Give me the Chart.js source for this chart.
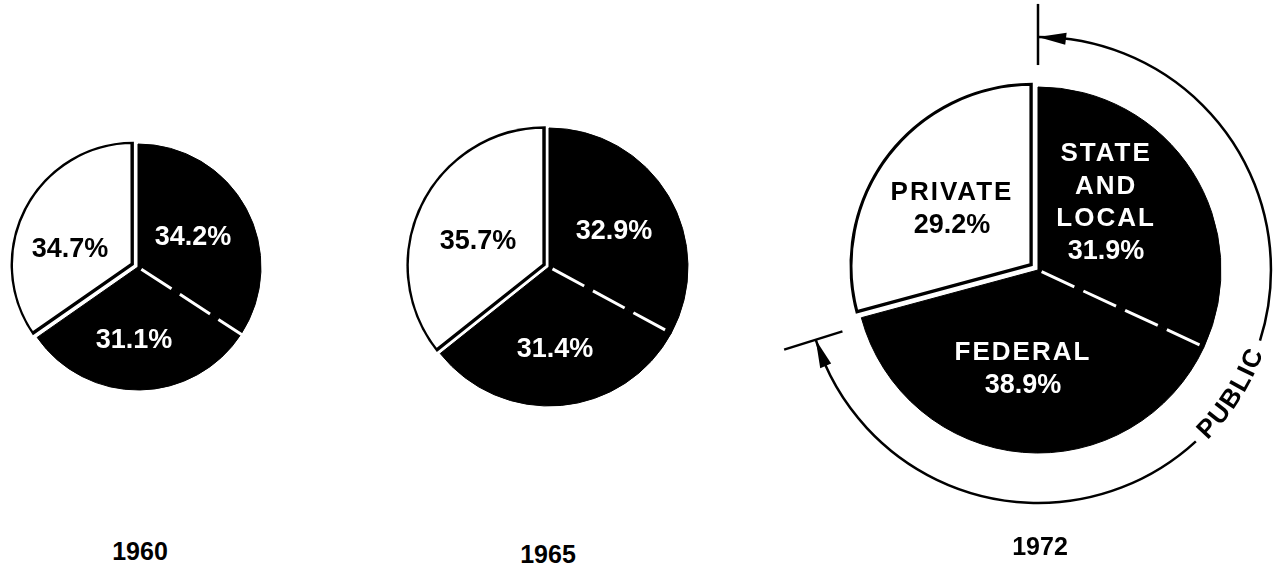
<!DOCTYPE html>
<html>
<head>
<meta charset="utf-8">
<title>Public and private shares, 1960-1972</title>
<script src="https://cdn.jsdelivr.net/npm/chart.js@4.4.1/dist/chart.umd.min.js"></script>
<style>
  html, body { margin: 0; padding: 0; background: #fff; overflow: hidden; }
  body { width: 1281px; height: 571px; position: relative; }
  canvas { position: absolute; top: 0; }
  .year {
    position: absolute;
    font: bold 25px "Liberation Sans", Arial, sans-serif;
    color: #000;
    transform: translate(-50%, -50%);
  }
</style>
</head>
<body>
<canvas id="pie1960" width="276" height="534" style="left:0px"></canvas>
<canvas id="pie1965" width="320" height="534" style="left:389px"></canvas>
<canvas id="pie1972" width="560" height="540" style="left:758px"></canvas>
<div class="year" id="y0" style="left:140px; top:551px"></div>
<div class="year" id="y1" style="left:548px; top:554px"></div>
<div class="year" id="y2" style="left:1040px; top:546px"></div>

<script>
// values (percent of total)
var years = ['1960', '1965', '1972'];
var sectors = ['State and local', 'Federal', 'Private'];
var captions = [['STATE', 'AND', 'LOCAL'], ['FEDERAL'], ['PRIVATE']];
var shares1960 = [34.2, 31.1, 34.7];
var shares1965 = [32.9, 31.4, 35.7];
var shares1972 = [31.9, 38.9, 29.2];
var groupName = 'PUBLIC';

var FONT = '"Liberation Sans", Arial, sans-serif';

years.forEach(function (y, i) {
  document.getElementById('y' + i).textContent = y;
});

// percent labels, captions and the dashed divider between the two public slices
var sliceLabels = {
  id: 'sliceLabels',
  afterDatasetsDraw: function (chart, args, opts) {
    var ctx = chart.ctx;
    var arcs = chart.getDatasetMeta(0).data;
    var values = chart.data.datasets[0].data;
    var cx = arcs[0].x, cy = arcs[0].y, r = arcs[0].outerRadius;
    var a = arcs[0].endAngle;

    ctx.save();
    ctx.strokeStyle = '#fff';
    ctx.lineWidth = 3;
    ctx.setLineDash([36, 10]);
    ctx.beginPath();
    ctx.moveTo(cx + Math.cos(a) * 4, cy + Math.sin(a) * 4);
    ctx.lineTo(cx + Math.cos(a) * (r + 2), cy + Math.sin(a) * (r + 2));
    ctx.stroke();
    ctx.setLineDash([]);

    ctx.textAlign = 'center';
    ctx.textBaseline = 'middle';
    arcs.forEach(function (arc, i) {
      var lines = opts.captions ? captions[i].slice() : [];
      lines.push(values[i].toFixed(1) + '%');
      var p = opts.pos[i];
      var x = cx + p[0] * r;
      var y0 = cy + p[1] * r - (lines.length - 1) * opts.lineHeight / 2;
      ctx.fillStyle = i === 2 ? '#000' : '#fff';
      lines.forEach(function (t, k) {
        var isNum = k === lines.length - 1;
        ctx.font = 'bold ' + (isNum ? 27 : 26) + 'px ' + FONT;
        ctx.letterSpacing = isNum ? '0px' : '2px';
        ctx.fillText(t, x, y0 + k * opts.lineHeight);
      });
    });
    ctx.restore();
  }
};

// bracket arc with arrows around the two public slices (1972 only)
var publicBracket = {
  id: 'publicBracket',
  afterDraw: function (chart, args, opts) {
    var ctx = chart.ctx;
    var arcs = chart.getDatasetMeta(0).data;
    var cx = arcs[0].x, cy = arcs[0].y, r = arcs[0].outerRadius;
    var a0 = arcs[0].startAngle;
    var a1 = arcs[1].endAngle - opts.endTrim * Math.PI / 180;
    var R = r * 1.273;
    var rb = r * 1.311;
    var mid = (opts.labelAngle - 90) * Math.PI / 180;

    ctx.save();
    ctx.font = 'bold 26px ' + FONT;
    ctx.letterSpacing = '1.5px';
    var widths = groupName.split('').map(function (c) { return ctx.measureText(c).width; });
    var W = widths.reduce(function (s, w) { return s + w; }, 0);
    var half = (W / 2) / rb + 9 / R;

    ctx.strokeStyle = '#000';
    ctx.fillStyle = '#000';
    ctx.lineWidth = 2.5;
    ctx.beginPath();
    ctx.arc(cx, cy, R, a0, mid - half);
    ctx.stroke();
    ctx.beginPath();
    ctx.arc(cx, cy, R, mid + half, a1);
    ctx.stroke();

    [a0, a1].forEach(function (a) {
      ctx.beginPath();
      ctx.moveTo(cx + Math.cos(a) * r * 1.12, cy + Math.sin(a) * r * 1.12);
      ctx.lineTo(cx + Math.cos(a) * r * 1.454, cy + Math.sin(a) * r * 1.454);
      ctx.stroke();
    });

    function head(tip, dir) {
      var b = tip + dir * 28 / R;
      ctx.beginPath();
      ctx.moveTo(cx + Math.cos(tip) * R, cy + Math.sin(tip) * R);
      ctx.lineTo(cx + Math.cos(b) * (R + 6), cy + Math.sin(b) * (R + 6));
      ctx.lineTo(cx + Math.cos(b) * (R - 6), cy + Math.sin(b) * (R - 6));
      ctx.closePath();
      ctx.fill();
    }
    head(a0, 1);
    head(a1, -1);

    // letters follow the arc, tops toward the centre, reading upward
    ctx.textAlign = 'center';
    ctx.textBaseline = 'alphabetic';
    var start = mid + (W / 2) / rb;
    var run = 0;
    groupName.split('').forEach(function (c, i) {
      var phi = start - (run + widths[i] / 2) / rb;
      run += widths[i];
      ctx.save();
      ctx.translate(cx + Math.cos(phi) * rb, cy + Math.sin(phi) * rb);
      ctx.rotate(phi - Math.PI / 2);
      ctx.fillText(c, 0, 0);
      ctx.restore();
    });
    ctx.restore();
  }
};

function makePie(id, shares, set) {
  var plugins = [sliceLabels];
  if (set.bracket) plugins.push(publicBracket);
  return new Chart(document.getElementById(id), {
    type: 'pie',
    data: {
      labels: sectors,
      datasets: [{
        data: shares,
        backgroundColor: ['#000', '#000', '#fff'],
        borderColor: '#000',
        borderWidth: [1, 1, 3],
        borderAlign: ['center', 'center', 'inner'],
        offset: [0, 0, set.offset]
      }]
    },
    options: {
      responsive: false,
      animation: false,
      events: [],
      radius: set.radius,
      layout: { padding: 0 },
      plugins: {
        legend: { display: false },
        tooltip: { enabled: false },
        sliceLabels: { captions: set.captions, pos: set.pos, lineHeight: set.lineHeight },
        publicBracket: { labelAngle: 122.5, endTrim: 2.3 }
      }
    },
    plugins: plugins
  });
}

makePie('pie1960', shares1960, {
  radius: 123, offset: 20, captions: false, lineHeight: 30,
  pos: [[0.447, -0.236], [-0.033, 0.60], [-0.553, -0.138]]
});
makePie('pie1965', shares1965, {
  radius: 139, offset: 16, captions: false, lineHeight: 30,
  pos: [[0.468, -0.252], [0.043, 0.597], [-0.511, -0.18]]
});
makePie('pie1972', shares1972, {
  radius: 183, offset: 28, captions: true, lineHeight: 32.5, bracket: true,
  pos: [[0.372, -0.366], [-0.082, 0.541], [-0.47, -0.333]]
});
</script>
</body>
</html>
